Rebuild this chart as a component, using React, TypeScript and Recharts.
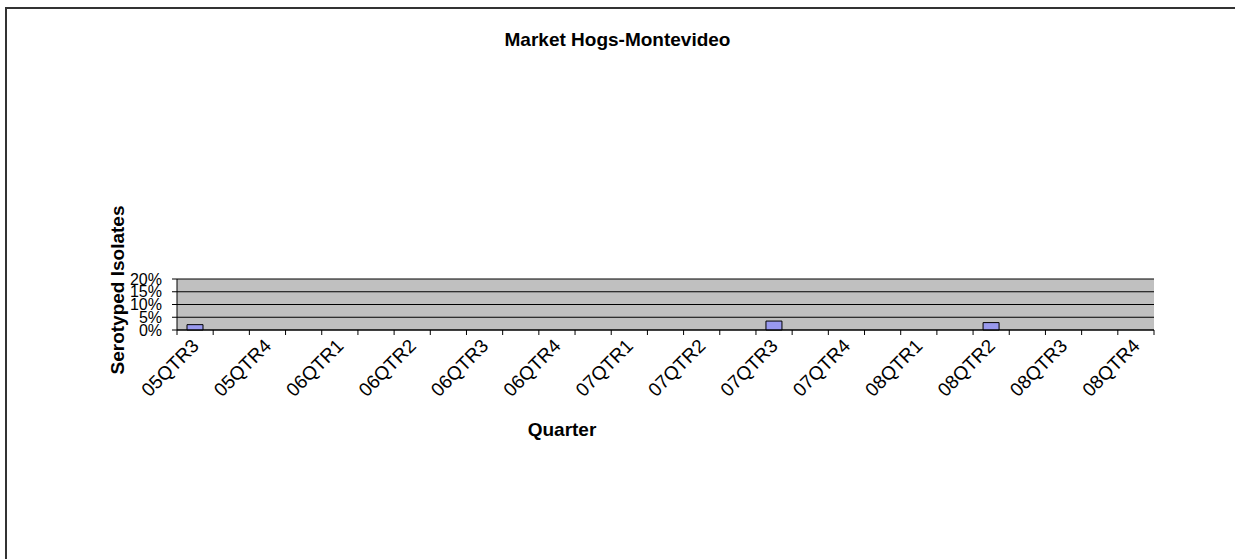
import React from 'react';
import { BarChart, Bar, XAxis, YAxis, CartesianGrid } from 'recharts';

// 27 category slots, Excel only labels every second one
const categories = [
  '05QTR3', '', '05QTR4', '', '06QTR1', '', '06QTR2', '', '06QTR3', '',
  '06QTR4', '', '07QTR1', '', '07QTR2', '', '07QTR3', '', '07QTR4', '',
  '08QTR1', '', '08QTR2', '', '08QTR3', '', '08QTR4',
];
const isolateShare = [
  0.021, 0, 0, 0, 0, 0, 0, 0, 0, 0,
  0, 0, 0, 0, 0, 0, 0.035, 0, 0, 0,
  0, 0, 0.029, 0, 0, 0, 0,
];
const yTicks = [0, 0.05, 0.1, 0.15, 0.2];

const data = categories.map((name, i) => ({ slot: i, name, value: isolateShare[i] }));

const W = 1235;
const H = 559;
const PLOT_LEFT = 177;
const PLOT_RIGHT = 1154;
const PLOT_TOP = 279;
const PLOT_BOTTOM = 330;
const FONT = 'Arial, "Liberation Sans", sans-serif';

const QuarterTick = (props: any) => {
  const { x, y, index } = props;
  const bw = (PLOT_RIGHT - PLOT_LEFT) / categories.length;
  const label = categories[index];
  const ax = x + 5;
  const ay = y + 17;
  return (
    <g>
      <line x1={x - bw / 2} y1={y} x2={x - bw / 2} y2={y + 5} stroke="#000" />
      {index === categories.length - 1 && (
        <line x1={x + bw / 2} y1={y} x2={x + bw / 2} y2={y + 5} stroke="#000" />
      )}
      {label && (
        <text
          x={ax}
          y={ay}
          textAnchor="end"
          transform={`rotate(-45, ${ax}, ${ay})`}
          fontSize={19}
          fontFamily={FONT}
          fill="#000"
        >
          {label}
        </text>
      )}
    </g>
  );
};

const App: React.FC = () => {
  return (
    <div style={{ position: 'absolute', left: 0, top: 0, width: W, height: H, overflow: 'hidden', background: '#fff', fontFamily: FONT }}>
      <div style={{ position: 'absolute', left: 5, top: 7, width: W + 50, height: H + 50, border: '2px solid #333' }} />
      <div style={{ position: 'absolute', left: 0, width: W, top: 40, transform: 'translateY(-50%)', textAlign: 'center', fontWeight: 'bold', fontSize: 19 }}>
        Market Hogs-Montevideo
      </div>
      <div
        style={{
          position: 'absolute', left: 118, top: 290, fontWeight: 'bold', fontSize: 19, whiteSpace: 'nowrap',
          transform: 'translate(-50%, -50%) rotate(-90deg)',
        }}
      >
        Serotyped Isolates
      </div>
      <div style={{ position: 'absolute', left: 562, top: 430, transform: 'translate(-50%, -50%)', fontWeight: 'bold', fontSize: 19 }}>
        Quarter
      </div>
      <div style={{ position: 'absolute', left: 0, top: 0 }}>
        <BarChart
          width={W}
          height={H}
          data={data}
          margin={{ top: PLOT_TOP, right: W - PLOT_RIGHT, bottom: H - PLOT_BOTTOM - 100, left: PLOT_LEFT - 60 }}
        >
          <CartesianGrid vertical={false} stroke="#000" fill="#C0C0C0" fillOpacity={1} />
          <XAxis
            dataKey="slot"
            type="category"
            interval={0}
            height={100}
            tickLine={false}
            tickSize={0}
            tickMargin={0}
            axisLine={{ stroke: '#000' }}
            tick={<QuarterTick />}
          />
          <XAxis xAxisId="top" orientation="top" dataKey="slot" height={0} tick={false} tickLine={false} axisLine={{ stroke: '#808080' }} />
          <YAxis
            domain={[0, 0.2]}
            ticks={yTicks}
            interval={0}
            width={60}
            tickSize={5}
            tickMargin={10}
            tickFormatter={(v: number) => `${Math.round(v * 100)}%`}
            tick={{ fill: '#000', fontSize: 16, fontFamily: FONT }}
            tickLine={{ stroke: '#000' }}
            axisLine={{ stroke: '#000' }}
          />
          <YAxis yAxisId="right" orientation="right" width={0} tick={false} tickLine={false} axisLine={{ stroke: '#808080' }} />
          <Bar dataKey="value" fill="#9999EE" stroke="#000" strokeWidth={1} barSize={16} isAnimationActive={false} />
        </BarChart>
      </div>
    </div>
  );
};

export default App;
